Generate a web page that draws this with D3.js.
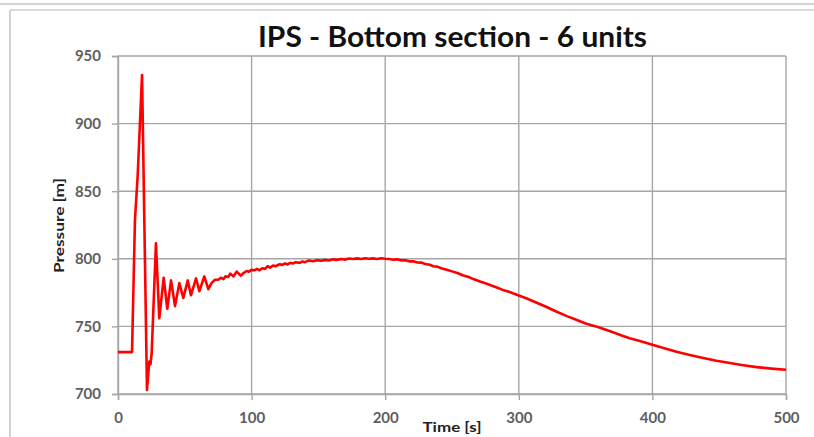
<!DOCTYPE html>
<html>
<head>
<meta charset="utf-8">
<script src="https://cdn.jsdelivr.net/npm/d3@7"></script>
<style>
  html, body { margin: 0; padding: 0; background: #fff; }
  svg { display: block; }
</style>
</head>
<body>
<svg id="chart" width="814" height="437"></svg>
<script>
// Pressure history at the bottom section, 6 units
const chartTitle = "IPS - Bottom section - 6 units";
const xTitle = "Time [s]";
const yTitle = "Pressure [m]";

const xTicks = [0, 100, 200, 300, 400, 500];
const yTicks = [700, 750, 800, 850, 900, 950];

const timeS = [
  0, 10.5, 12.7, 14.7, 18, 21.7, 23.4, 24.3, 25.2, 28.4,
  30.9, 34.2, 36.9, 39.7, 42.7, 45.9, 48.9, 52.2, 54.6, 58.4,
  60.9, 64.6, 67.6, 70, 72.6, 75, 77, 79, 80.5, 82.5,
  84, 86.3, 88.8, 92, 94, 96.3, 98, 100, 102, 104,
  106, 108, 110, 112, 114, 116, 118, 121, 123, 125,
  127, 129, 131, 133, 136, 138, 140, 143, 146, 149,
  152, 155, 158, 161, 164, 167, 170, 173, 176, 179,
  182, 185, 188, 191, 194, 197, 200, 203, 206, 209,
  212, 215, 218, 221, 224, 227, 230, 233.5, 236, 239,
  242, 246, 250, 254, 258.5, 262, 266, 271, 275, 279,
  283.5, 288, 292, 296, 300, 306, 313, 320, 328, 336,
  343, 350, 357, 363, 370, 377, 383, 390, 400, 409,
  418, 428, 438, 448, 458, 468, 478, 489, 500
];

const pressureM = [
  731, 731, 829, 861, 936, 703, 724, 722, 730, 811.5,
  756, 786, 763, 784, 765, 782, 771, 784, 773, 785.5,
  776, 787, 777.5, 782, 784.5, 784.5, 786, 785, 787, 786.5,
  789, 787, 790.5, 787.5, 789.5, 791, 790.5, 791.8, 791.5, 792.5,
  791.5, 793, 792.5, 794.5, 793.5, 795, 794.5, 796, 795.5, 796.5,
  795.8, 797, 796.5, 797.5, 797, 798, 797.5, 798.8, 798.2, 799,
  798.5, 799.2, 798.8, 799.6, 799.2, 799.8, 799.4, 800.2, 799.8, 800.3,
  799.9, 800.4, 800, 800.3, 799.9, 800.4, 800, 799.8, 799.3, 799.6,
  798.8, 798.9, 798.1, 798.2, 797.3, 797.2, 796.2, 795.6, 794.5, 794.2,
  793, 791.9, 790.7, 789.5, 787.7, 786.7, 785, 783.2, 781.9, 780.4,
  778.8, 777, 775.8, 774.3, 772.9, 770.6, 767.7, 764.7, 761, 757.6,
  754.9, 752.2, 750.2, 748.2, 745.8, 743.3, 741.3, 739.4, 736.4, 733.8,
  731.3, 728.8, 726.6, 724.6, 722.9, 721.3, 719.9, 718.8, 717.9
];

const svg = d3.select("#chart");
const W = 814, H = 437;
const plot = { left: 118, right: 786, top: 56, bottom: 394 };

const gridColor = "#a6a6a6";
const labelColor = "#5e5e5e";
const fontFamily = "Lato, 'Open Sans', 'Liberation Sans', sans-serif";

// outer frame of the chart object
svg.append("line").attr("x1", 0).attr("x2", W).attr("y1", 4).attr("y2", 4)
  .attr("stroke", "#c4c4c4").attr("stroke-width", 1.5);
svg.append("line").attr("x1", 10).attr("x2", W).attr("y1", 10).attr("y2", 10)
  .attr("stroke", "#cfcfcf").attr("stroke-width", 1.5);
svg.append("line").attr("x1", 10).attr("x2", 10).attr("y1", 10).attr("y2", H)
  .attr("stroke", "#c4c4c4").attr("stroke-width", 1.5);

const x = d3.scaleLinear().domain([0, 500]).range([plot.left, plot.right]);
const y = d3.scaleLinear().domain([700, 950]).range([plot.bottom, plot.top]);

// gridlines
const grid = svg.append("g").attr("stroke", gridColor).attr("stroke-width", 1.4);
grid.selectAll(".gx").data(xTicks).join("line")
  .attr("x1", d => x(d)).attr("x2", d => x(d))
  .attr("y1", plot.top).attr("y2", plot.bottom);
grid.selectAll(".gy").data(yTicks).join("line")
  .attr("x1", plot.left).attr("x2", plot.right)
  .attr("y1", d => y(d)).attr("y2", d => y(d));

// axes
const xAxis = d3.axisBottom(x).tickValues(xTicks).tickSize(6).tickPadding(12).tickFormat(d3.format("d"));
const yAxis = d3.axisLeft(y).tickValues(yTicks).tickSize(6).tickPadding(11).tickFormat(d3.format("d"));

function styleAxis(g) {
  g.select(".domain").attr("stroke", gridColor).attr("stroke-width", 1.4);
  g.selectAll(".tick line").attr("stroke", gridColor).attr("stroke-width", 1.4);
  g.selectAll(".tick text")
    .attr("fill", labelColor)
    .style("font-family", fontFamily)
    .style("font-size", "15px")
    .style("font-weight", "700");
}

svg.append("g").attr("transform", `translate(0,${plot.bottom})`).call(xAxis).call(styleAxis);
svg.append("g").attr("transform", `translate(${plot.left},0)`).call(yAxis).call(styleAxis);

// pressure trace
const series = timeS.map((t, i) => ({ t, p: pressureM[i] }));
const line = d3.line().x(d => x(d.t)).y(d => y(d.p));
svg.append("path")
  .datum(series)
  .attr("fill", "none")
  .attr("stroke", "#ff0000")
  .attr("stroke-width", 2.6)
  .attr("stroke-linejoin", "round")
  .attr("d", line);

// titles
svg.append("text")
  .attr("x", 452.5).attr("y", 47)
  .attr("text-anchor", "middle")
  .attr("textLength", 389).attr("lengthAdjust", "spacingAndGlyphs")
  .style("font-family", fontFamily)
  .style("font-size", "28px")
  .style("font-weight", "700")
  .attr("fill", "#111")
  .text(chartTitle);

svg.append("text")
  .attr("x", 452).attr("y", 432)
  .attr("text-anchor", "middle")
  .attr("textLength", 59).attr("lengthAdjust", "spacingAndGlyphs")
  .style("font-family", fontFamily)
  .style("font-size", "14px")
  .style("font-weight", "700")
  .attr("fill", "#222")
  .text(xTitle);

svg.append("text")
  .attr("transform", "translate(64,225.5) rotate(-90)")
  .attr("text-anchor", "middle")
  .attr("textLength", 95).attr("lengthAdjust", "spacingAndGlyphs")
  .style("font-family", fontFamily)
  .style("font-size", "14px")
  .style("font-weight", "700")
  .attr("fill", "#222")
  .text(yTitle);
</script>
</body>
</html>
